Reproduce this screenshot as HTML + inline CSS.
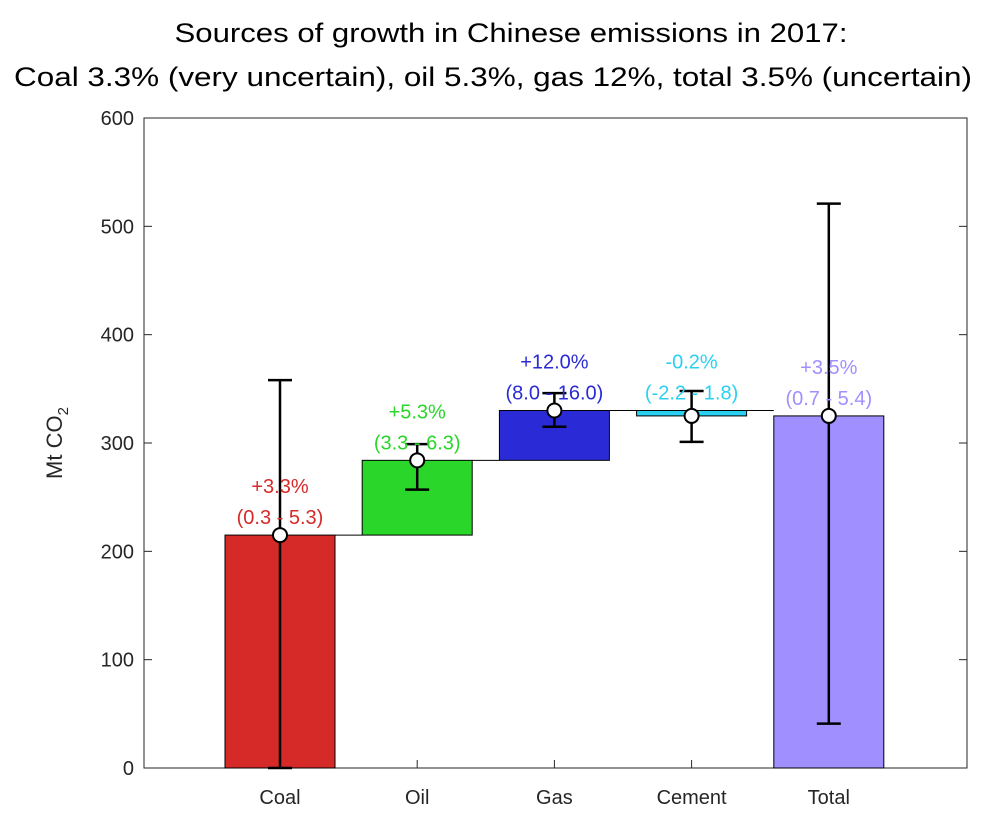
<!DOCTYPE html>
<html><head><meta charset="utf-8"><style>
body{margin:0;background:#fff;}
svg{display:block;font-family:"Liberation Sans",Arial,sans-serif;}
</style></head><body>
<svg id="chart" width="998" height="829">
<text x="511" y="42" text-anchor="middle" font-size="27" textLength="673" lengthAdjust="spacingAndGlyphs">Sources of growth in Chinese emissions in 2017:</text>
<text x="493" y="86" text-anchor="middle" font-size="27" textLength="958" lengthAdjust="spacingAndGlyphs">Coal 3.3% (very uncertain), oil 5.3%, gas 12%, total 3.5% (uncertain)</text>
<g id="plot"></g>
<text transform="translate(62,443) rotate(-90)" text-anchor="middle" font-size="22" fill="#262626">Mt CO<tspan font-size="15" dy="6">2</tspan></text>
</svg>
<script>
const categories=["Coal","Oil","Gas","Cement","Total"];
const barBase=[0,215,284,325,0];
const barTop=[215,284,330,330,325];
const points=[215,284,330,325,325];
const errLow=[0,257,315,301,41];
const errHigh=[358,299,346,348,521];
const pctLabels=["+3.3%","+5.3%","+12.0%","-0.2%","+3.5%"];
const rangeLabels=["(0.3 - 5.3)","(3.3 - 6.3)","(8.0 - 16.0)","(-2.2 - 1.8)","(0.7 - 5.4)"];
const colors=["#d62a28","#2ad62a","#2a2ad6","#2ad0f0","#a090ff"];
const yTicks=[0,100,200,300,400,500,600];

const L=144,R=967,T=118,B=768,ns="http://www.w3.org/2000/svg";
const y=v=>B-(v/600)*(B-T);
const x=i=>280+i*137.2;
const bw=110;
const g=document.getElementById('plot');
function mk(tag,attrs){const e=document.createElementNS(ns,tag);for(const k in attrs)e.setAttribute(k,attrs[k]);g.appendChild(e);return e;}

const frame=mk('rect',{x:L,y:T,width:R-L,height:B-T,fill:'none',stroke:'#262626','stroke-width':1});


yTicks.forEach(v=>{
  const t=mk('line',{x1:L,x2:L+8,y1:y(v),y2:y(v),stroke:'#262626'});
  
  
  const t2=mk('line',{x1:R-8,x2:R,y1:y(v),y2:y(v),stroke:'#262626'});
  
  
  const tx=mk('text',{x:L-10,y:y(v)+7,'text-anchor':'end','font-size':20,fill:'#262626'});
  tx.textContent=v;
  
  
});
categories.forEach((c,i)=>{
  const tk=mk('line',{x1:x(i),x2:x(i),y1:B,y2:B-8,stroke:'#262626'});
  
  
  const tx=mk('text',{x:x(i),y:B+36,'text-anchor':'middle','font-size':20,fill:'#262626'});
  tx.textContent=c;
  
  
});
categories.forEach((c,i)=>{
  if(i<categories.length-1){
    const cn=mk('line',{x1:x(i)+bw/2,x2:x(i+1)-bw/2,y1:y(barTop[i]),y2:y(barTop[i]),stroke:'#000','stroke-width':1});
    
    
  }
  const b=mk('rect',{x:x(i)-bw/2,y:y(barTop[i]),width:bw,height:y(barBase[i])-y(barTop[i]),fill:colors[i],stroke:'#000','stroke-width':1});
  
  
});
categories.forEach((c,i)=>{
  const e=mk('path',{d:`M${x(i)-12},${y(errHigh[i])}H${x(i)+12}M${x(i)},${y(errHigh[i])}V${y(errLow[i])}M${x(i)-12},${y(errLow[i])}H${x(i)+12}`,stroke:'#000','stroke-width':2.5,fill:'none'});
  
  
  const p=mk('circle',{cx:x(i),cy:y(points[i]),r:7,fill:'#fff',stroke:'#000','stroke-width':2});
  
  
  const top=y(Math.max(barTop[i],points[i]));
  const l1=mk('text',{x:x(i),y:top-42,'text-anchor':'middle','font-size':20,fill:colors[i]});
  l1.textContent=pctLabels[i];
  
  
  const l2=mk('text',{x:x(i),y:top-11,'text-anchor':'middle','font-size':20,fill:colors[i]});
  l2.textContent=rangeLabels[i];
  
  
});
</script>
</body></html>
